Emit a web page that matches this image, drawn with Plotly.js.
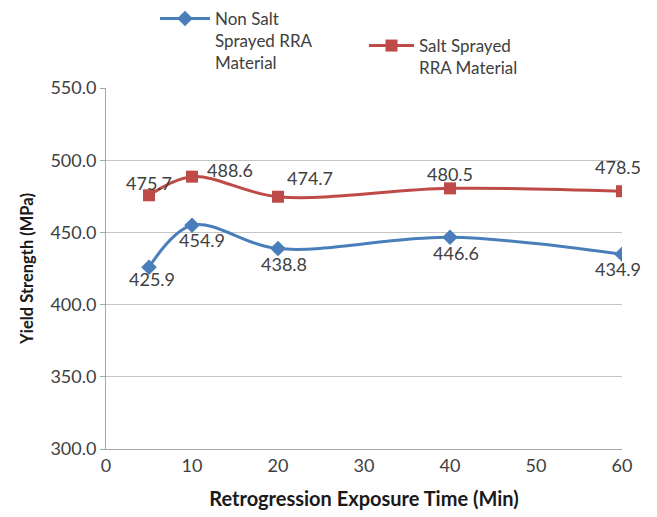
<!DOCTYPE html>
<html>
<head>
<meta charset="utf-8">
<script src="https://cdn.plot.ly/plotly-3.0.1.min.js"></script>
<style>html,body{margin:0;padding:0;background:#fff;}#chart{width:657px;height:517px;}</style>
</head>
<body>
<div id="chart"></div>
<script>
const exposureTime = [5, 10, 20, 40, 60];
const nonSaltValues = [425.9, 454.9, 438.8, 446.6, 434.9];
const saltValues = [475.7, 488.6, 474.7, 480.5, 478.5];
const seriesNames = ["Non Salt<br>Sprayed RRA<br>Material", "Salt Sprayed<br>RRA Material"];

// label pixel offsets (style)
const nonSaltOffsets = [[3, 12], [10, 15], [6, 15], [6, 16], [-4, 15]];
const saltOffsets = [[0, -12], [38, -7], [32, -19], [0, -14], [-4, -24]];

const FONT = "Lato, 'Open Sans', sans-serif";
const blue = "#4A7EBB", red = "#BE4B48";

const traces = [
  {x: exposureTime, y: nonSaltValues, name: seriesNames[0], type: "scatter", mode: "lines+markers",
   line: {color: blue, width: 3, shape: "spline", smoothing: 1},
   marker: {symbol: "diamond", size: 12, color: blue}, legend: "legend"},
  {x: exposureTime, y: saltValues, name: seriesNames[1], type: "scatter", mode: "lines+markers",
   line: {color: red, width: 3, shape: "spline", smoothing: 1},
   marker: {symbol: "square", size: 12, color: red}, legend: "legend2"}
];

const annotations = [];
function addLabels(vals, offs) {
  vals.forEach((v, i) => {
    annotations.push({x: exposureTime[i], y: v, xref: "x", yref: "y", text: v.toFixed(1),
      showarrow: false, xshift: offs[i][0], yshift: -offs[i][1],
      font: {family: FONT, size: 18, color: "#404040"}});
  });
}
addLabels(nonSaltValues, nonSaltOffsets);
addLabels(saltValues, saltOffsets);

const layout = {
  width: 657, height: 517,
  margin: {l: 106, r: 35, t: 88, b: 68},
  paper_bgcolor: "#fff", plot_bgcolor: "#fff",
  font: {family: FONT, size: 17, color: "#404040"},
  xaxis: {range: [0, 60], dtick: 10, tick0: 0, showgrid: false, zeroline: false, automargin: false,
    showline: true, linecolor: "#A6A6A6", linewidth: 1, ticks: "",
    tickfont: {family: FONT, size: 18, color: "#404040"},
    title: {text: "Retrogression Exposure Time (Min)", font: {family: FONT, size: 20, color: "#1a1a1a", weight: "bold"}, standoff: 17}},
  yaxis: {range: [300, 550], dtick: 50, tick0: 300, tickformat: ".1f", showgrid: true, gridcolor: "#C4C4C4",
    zeroline: false, showline: true, linecolor: "#A6A6A6", linewidth: 1, ticks: "outside", ticklen: 5, tickcolor: "#A6A6A6", automargin: false,
    tickfont: {family: FONT, size: 18, color: "#404040"},
    title: {text: "Yield Strength (MPa)", font: {family: FONT, size: 16.5, color: "#1a1a1a", weight: "bold"}, standoff: 12}},
  legend: {orientation: "h", xref: "container", yref: "container", x: 155/657, y: 1 - 1/517, xanchor: "left", yanchor: "top",
    valign: "top", bgcolor: "rgba(0,0,0,0)", font: {family: FONT, size: 17, color: "#404040"}, itemwidth: 50},
  legend2: {orientation: "h", xref: "container", yref: "container", x: 364/657, y: 1 - 28/517, xanchor: "left", yanchor: "top",
    valign: "top", bgcolor: "rgba(0,0,0,0)", font: {family: FONT, size: 17, color: "#404040"}, itemwidth: 45},
  annotations: annotations,
  showlegend: true
};

Plotly.newPlot("chart", traces, layout, {displayModeBar: false, staticPlot: true});
</script>
</body>
</html>
